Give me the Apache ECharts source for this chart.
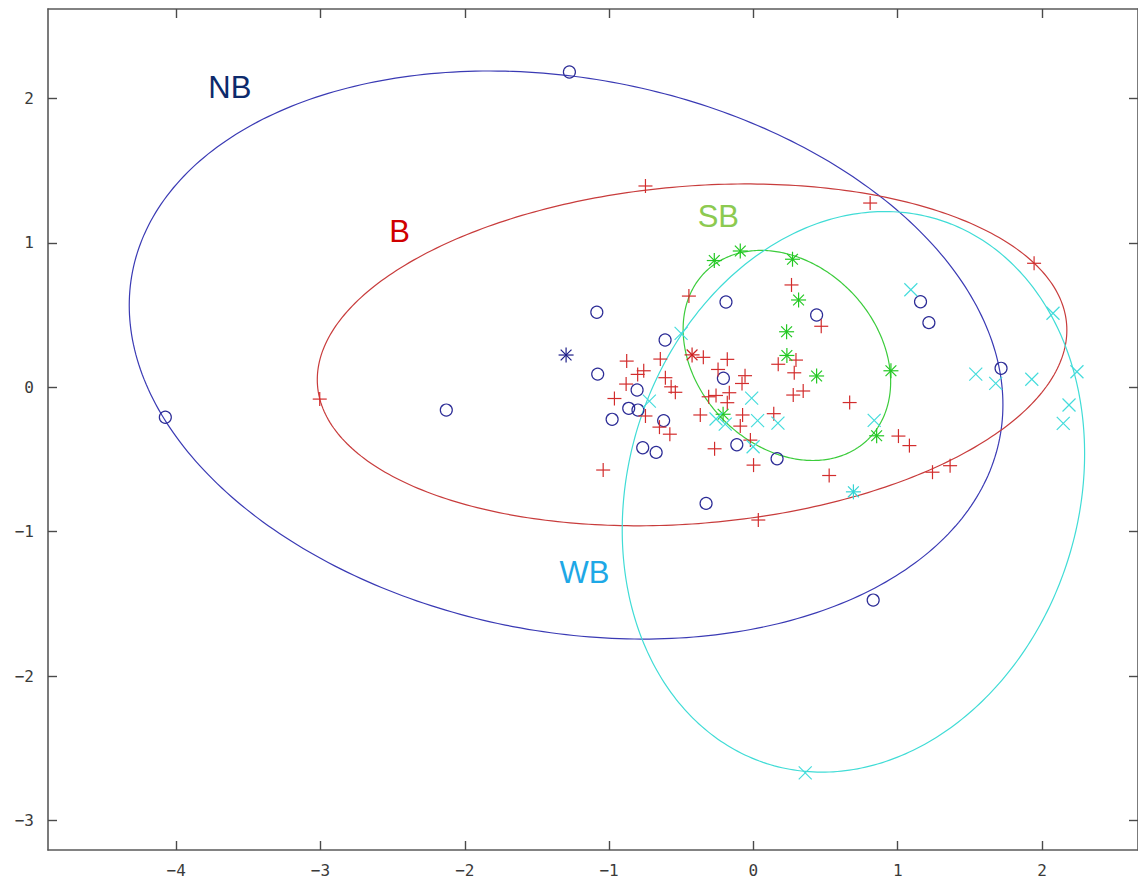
<!DOCTYPE html>
<html>
<head>
<meta charset="utf-8">
<script src="https://cdn.jsdelivr.net/npm/echarts@6/dist/echarts.min.js"></script>
<style>
  html, body { margin: 0; padding: 0; background: #ffffff; }
  #chart { width: 1138px; height: 882px; }
</style>
</head>
<body>
<div id="chart"></div>
<script>
// ---- axis ticks ----
const xTicks = [-4, -3, -2, -1, 0, 1, 2];
const yTicks = [-3, -2, -1, 0, 1, 2];

// ---- class names ----
const classNames = ['NB', 'B', 'SB', 'WB'];

// ---- samples per class, [x, y] ----
const nbPoints = [
  [-1.275, 2.182], [-4.075, -0.208], [-2.128, -0.158], [-1.085, 0.519], [-1.079, 0.091],
  [-0.190, 0.590], [-0.612, 0.327], [0.438, 0.500], [1.158, 0.592], [1.216, 0.447],
  [1.716, 0.131], [0.830, -1.473], [-0.328, -0.804], [-0.208, 0.062], [-0.806, -0.019],
  [-0.979, -0.222], [-0.864, -0.146], [-0.800, -0.158], [-0.622, -0.231], [-0.767, -0.419],
  [-0.674, -0.451], [-0.115, -0.398], [0.164, -0.495]
];

const bPoints = [
  [-3.005, -0.082], [-0.748, 1.393], [0.809, 1.275], [1.945, 0.858], [-0.447, 0.631],
  [0.264, 0.708], [0.470, 0.422], [-0.878, 0.181], [-0.645, 0.195], [-0.347, 0.207],
  [-0.181, 0.193], [-0.760, 0.114], [-0.802, 0.089], [-0.882, 0.022], [-0.610, 0.066],
  [-0.570, 0.003], [-0.541, -0.035], [-0.245, 0.123], [-0.310, -0.066], [-0.259, -0.057],
  [-0.963, -0.078], [-0.748, -0.199], [-0.651, -0.276], [-0.579, -0.325], [-0.368, -0.192],
  [-0.269, -0.426], [-1.041, -0.573], [-0.079, 0.026], [-0.058, 0.080], [-0.167, -0.038],
  [-0.181, -0.107], [0.172, 0.159], [0.295, 0.188], [0.283, 0.100], [0.345, -0.026],
  [0.276, -0.054], [-0.075, -0.192], [0.141, -0.183], [-0.091, -0.269], [-0.021, -0.366],
  [0.001, -0.539], [0.525, -0.611], [1.005, -0.338], [1.081, -0.404], [0.667, -0.106],
  [0.034, -0.919], [1.241, -0.588], [1.363, -0.543]
];

const sbPoints = [
  [-0.271, 0.877], [-0.091, 0.943], [0.271, 0.886], [0.313, 0.604], [0.230, 0.384],
  [0.438, 0.078], [0.953, 0.114], [0.854, -0.336], [-0.210, -0.187]
];

const wbPoints = [
  [-0.501, 0.373], [-0.721, -0.096], [-0.259, -0.220], [-0.195, -0.255], [-0.012, -0.075],
  [0.029, -0.231], [0.170, -0.248], [-0.002, -0.412], [0.837, -0.229], [1.091, 0.675],
  [2.076, 0.512], [1.541, 0.091], [1.679, 0.027], [1.929, 0.055], [2.242, 0.107],
  [2.187, -0.123], [2.147, -0.250], [0.359, -2.669]
];

// ---- class centres and ellipse shape (half extents along x / y, correlation) ----
const centreX = [-1.298, -0.425, 0.232, 0.693];
const centreY = [0.223, 0.224, 0.220, -0.724];
const spreadX = [3.027, 2.597, 0.719, 1.602];
const spreadY = [1.966, 1.183, 0.727, 1.940];
const spreadRho = [-0.175, 0.145, -0.25, 0.136];

// ---- name tags, anchored in data coordinates ----
const tagX = [-3.628, -2.451, -0.243, -1.171];
const tagY = [2.078, 1.081, 1.185, -1.279];

// ---- styling ----
const ellipseColors = ['#3a3ab4', '#c83c3c', '#3ccc3c', '#40dcd6'];
const markerColors = ['#2c2c96', '#d22c2c', '#22c822', '#44dcdc'];
const centreColors = ['#1c1c88', '#cc2020', '#22c822', '#33d4d4'];
const tagColors = ['#0d2a6c', '#d00000', '#8cca50', '#1ea8e6'];

const X_MIN = -4.888, X_MAX = 2.665, Y_MIN = -3.203, Y_MAX = 2.618;
const MINUS = '\u2212';
const fmt = v => (v < 0 ? MINUS + Math.abs(v) : String(v));

function ellipseSeries(i) {
  return {
    type: 'custom',
    name: classNames[i] + ' ellipse',
    silent: true,
    z: 2,
    data: [[centreX[i], centreY[i]]],
    encode: { x: 0, y: 1 },
    renderItem: (params, api) => {
      const n = 360;
      const r = spreadRho[i], q = Math.sqrt(1 - r * r);
      const pts = [];
      for (let j = 0; j <= n; j++) {
        const t = 2 * Math.PI * j / n;
        const c = Math.cos(t), s = Math.sin(t);
        pts.push(api.coord([
          centreX[i] + spreadX[i] * c,
          centreY[i] + spreadY[i] * (r * c + q * s)
        ]));
      }
      return {
        type: 'polyline',
        shape: { points: pts },
        style: { stroke: ellipseColors[i], fill: null, lineWidth: 1.2 }
      };
    }
  };
}

function markerSeries(name, points, kind, color, size) {
  return {
    type: 'custom',
    name: name,
    silent: true,
    z: 3,
    data: points,
    encode: { x: 0, y: 1 },
    renderItem: (params, api) => {
      const p = api.coord([api.value(0), api.value(1)]);
      const style = { stroke: color, fill: null, lineWidth: 1.2 };
      const seg = (x1, y1, x2, y2) => ({
        type: 'line',
        shape: { x1: p[0] + x1, y1: p[1] + y1, x2: p[0] + x2, y2: p[1] + y2 },
        style: style
      });
      const r = size;
      let children;
      if (kind === 'circle') {
        children = [{ type: 'circle', shape: { cx: p[0], cy: p[1], r: r }, style: style }];
      } else if (kind === 'plus') {
        children = [seg(-r, 0, r, 0), seg(0, -r, 0, r)];
      } else if (kind === 'cross') {
        children = [seg(-r, -r, r, r), seg(-r, r, r, -r)];
      } else {
        const d = r * 0.72;
        children = [seg(-r, 0, r, 0), seg(0, -r, 0, r), seg(-d, -d, d, d), seg(-d, d, d, -d)];
      }
      return { type: 'group', children: children };
    }
  };
}

const centreSeries = classNames.map((nm, i) =>
  markerSeries(nm + ' centre', [[centreX[i], centreY[i]]], 'star', centreColors[i], 7.5)
);

const tagSeries = {
  type: 'custom',
  name: 'tags',
  silent: true,
  z: 4,
  data: classNames.map((nm, i) => [tagX[i], tagY[i], i]),
  encode: { x: 0, y: 1 },
  renderItem: (params, api) => {
    const p = api.coord([api.value(0), api.value(1)]);
    const i = api.value(2);
    return {
      type: 'text',
      x: p[0], y: p[1],
      style: {
        text: classNames[i],
        fill: tagColors[i],
        fontSize: 31,
        fontFamily: 'Liberation Sans, Arial, sans-serif',
        align: 'center',
        verticalAlign: 'middle'
      }
    };
  }
};

const axisLineStyle = { color: '#5a5a5a', width: 1.6 };
const tickStyle = { color: '#4a4a4a', width: 1.4 };
const labelStyle = { color: '#3a3a3a', fontFamily: 'DejaVu Sans Mono', fontSize: 16 };

const chart = echarts.init(document.getElementById('chart'), null, { renderer: 'svg' });
chart.setOption({
  backgroundColor: '#ffffff',
  animation: false,
  grid: { left: 48, top: 9, right: -1, bottom: 32, containLabel: false },
  xAxis: [
    {
      type: 'value', min: X_MIN, max: X_MAX, position: 'bottom',
      axisLine: { show: true, onZero: false, lineStyle: axisLineStyle },
      axisTick: { show: true, inside: true, length: 9, customValues: xTicks, lineStyle: tickStyle },
      axisLabel: Object.assign({ customValues: xTicks, margin: 12, formatter: fmt }, labelStyle),
      splitLine: { show: false }
    },
    {
      type: 'value', min: X_MIN, max: X_MAX, position: 'top',
      axisLine: { show: true, onZero: false, lineStyle: axisLineStyle },
      axisTick: { show: true, inside: true, length: 9, customValues: xTicks, lineStyle: tickStyle },
      axisLabel: { show: false },
      splitLine: { show: false }
    }
  ],
  yAxis: [
    {
      type: 'value', min: Y_MIN, max: Y_MAX, position: 'left',
      axisLine: { show: true, onZero: false, lineStyle: axisLineStyle },
      axisTick: { show: true, inside: true, length: 9, customValues: yTicks, lineStyle: tickStyle },
      axisLabel: Object.assign({ customValues: yTicks, margin: 14, formatter: fmt }, labelStyle),
      splitLine: { show: false }
    },
    {
      type: 'value', min: Y_MIN, max: Y_MAX, position: 'right',
      axisLine: { show: true, onZero: false, lineStyle: axisLineStyle },
      axisTick: { show: true, inside: true, length: 9, customValues: yTicks, lineStyle: tickStyle },
      axisLabel: { show: false },
      splitLine: { show: false }
    }
  ],
  series: [
    ellipseSeries(0), ellipseSeries(1), ellipseSeries(2), ellipseSeries(3),
    markerSeries('NB', nbPoints, 'circle', markerColors[0], 6),
    markerSeries('B', bPoints, 'plus', markerColors[1], 7),
    markerSeries('SB', sbPoints, 'star', markerColors[2], 7.5),
    markerSeries('WB', wbPoints, 'cross', markerColors[3], 6.5),
    ...centreSeries,
    tagSeries
  ]
});
</script>
</body>
</html>
